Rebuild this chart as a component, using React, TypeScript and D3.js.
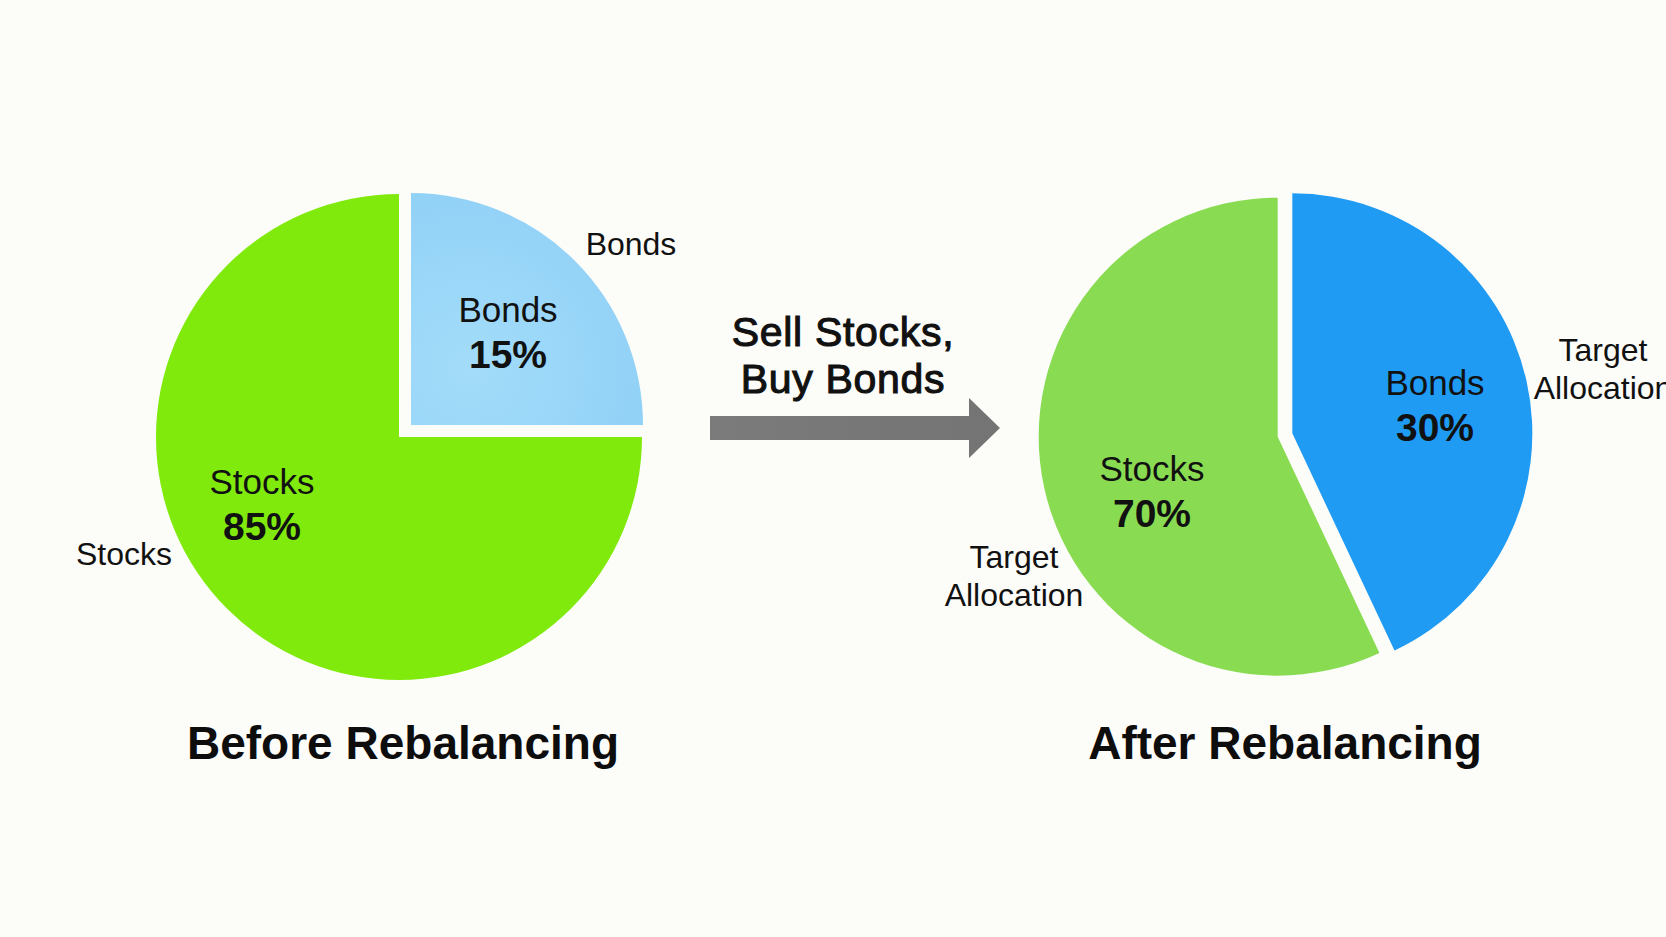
import React from 'react';
import * as d3 from 'd3';

// ---- data ----
const categories = ['Bonds', 'Stocks'];
// slice sizes as drawn in the picture (angles), labels as printed
const beforeShares = [25, 75];
const afterShares = [43, 57];
const beforeLabels = ['15%', '85%'];
const afterLabels = ['30%', '70%'];
const titles = ['Before Rebalancing', 'After Rebalancing'];
const arrowText = ['Sell Stocks,', 'Buy Bonds'];
const beforeOuterLabels = [['Bonds'], ['Stocks']];
const afterOuterLabels = [['Target', 'Allocation'], ['Target', 'Allocation']];

// ---- layout ----
const W = 1666;
const H = 937;
const FONT = '"Liberation Sans", Arial, Helvetica, sans-serif';

const pies = [
  {
    shares: beforeShares,
    labels: beforeLabels,
    outer: beforeOuterLabels,
    title: titles[0],
    cx: 405,
    cy: 431,
    radii: [232, 243],
    explode: 8.5,
    colors: ['url(#lightBlue)', '#80ea0c'],
    labelPos: [[508, 322], [262, 494]],
    outerPos: [[631, 255], [124, 565]],
    titlePos: [403, 759],
  },
  {
    shares: afterShares,
    labels: afterLabels,
    outer: afterOuterLabels,
    title: titles[1],
    cx: 1285,
    cy: 435,
    radii: [240, 239],
    explode: 7.5,
    colors: ['#1f9bf4', '#89dc52'],
    labelPos: [[1435, 395], [1152, 481]],
    outerPos: [[1603, 361], [1014, 568]],
    titlePos: [1285, 759],
  },
];

function Pie({ cfg }: { cfg: (typeof pies)[number] }) {
  const arcs = d3
    .pie<number>()
    .sort(null)
    .value((d) => d)(cfg.shares);
  return (
    <g>
      {arcs.map((a, i) => {
        const mid = (a.startAngle + a.endAngle) / 2;
        const dx = Math.sin(mid) * cfg.explode;
        const dy = -Math.cos(mid) * cfg.explode;
        const path = d3.arc<any>().innerRadius(0).outerRadius(cfg.radii[i])(a) as string;
        return (
          <path
            key={categories[i]}
            d={path}
            transform={`translate(${cfg.cx + dx},${cfg.cy + dy})`}
            fill={cfg.colors[i]}
          />
        );
      })}
      {categories.map((c, i) => (
        <g key={'lab' + c}>
          <text
            x={cfg.labelPos[i][0]}
            y={cfg.labelPos[i][1]}
            textAnchor="middle"
            fontSize={35}
            fill="#111"
            fontFamily={FONT}
          >
            {c}
          </text>
          <text
            x={cfg.labelPos[i][0]}
            y={cfg.labelPos[i][1] + 46}
            textAnchor="middle"
            fontSize={39}
            fontWeight="bold"
            fill="#111"
            fontFamily={FONT}
          >
            {cfg.labels[i]}
          </text>
        </g>
      ))}
      {cfg.outer.map((lines, i) => (
        <text
          key={'out' + i}
          x={cfg.outerPos[i][0]}
          y={cfg.outerPos[i][1]}
          textAnchor="middle"
          fontSize={32}
          fill="#111"
          fontFamily={FONT}
        >
          {lines.map((l, j) => (
            <tspan key={j} x={cfg.outerPos[i][0]} dy={j === 0 ? 0 : 38}>
              {l}
            </tspan>
          ))}
        </text>
      ))}
      <text
        x={cfg.titlePos[0]}
        y={cfg.titlePos[1]}
        textAnchor="middle"
        fontSize={46}
        fontWeight="bold"
        fill="#0d0d0d"
        fontFamily={FONT}
      >
        {cfg.title}
      </text>
    </g>
  );
}

export default function App() {
  const arrow = d3.path();
  arrow.moveTo(710, 416);
  arrow.lineTo(969, 416);
  arrow.lineTo(969, 398);
  arrow.lineTo(1000, 428);
  arrow.lineTo(969, 458);
  arrow.lineTo(969, 440);
  arrow.lineTo(710, 440);
  arrow.closePath();
  return (
    <svg
      width={W}
      height={H}
      style={{ position: 'absolute', left: 0, top: 0, display: 'block' }}
    >
      <defs>
        <radialGradient id="lightBlue" cx="0.25" cy="0.75" r="0.9">
          <stop offset="0%" stopColor="#a3dcfa" />
          <stop offset="100%" stopColor="#8fd0f6" />
        </radialGradient>
        <linearGradient id="arrowGrad" x1="0" x2="1" y1="0" y2="0">
          <stop offset="0%" stopColor="#7b7b7b" />
          <stop offset="100%" stopColor="#747474" />
        </linearGradient>
      </defs>
      <rect x={0} y={0} width={W} height={H} fill="#fcfcf9" />
      {pies.map((p, i) => (
        <Pie key={i} cfg={p} />
      ))}
      <path d={arrow.toString()} fill="url(#arrowGrad)" />
      {arrowText.map((t, i) => (
        <text
          key={t}
          x={843}
          y={346 + i * 47}
          textAnchor="middle"
          fontSize={41}
          fill="#111"
          stroke="#111"
          strokeWidth={1.1}
          letterSpacing={0.7}
          fontFamily={FONT}
        >
          {t}
        </text>
      ))}
    </svg>
  );
}
